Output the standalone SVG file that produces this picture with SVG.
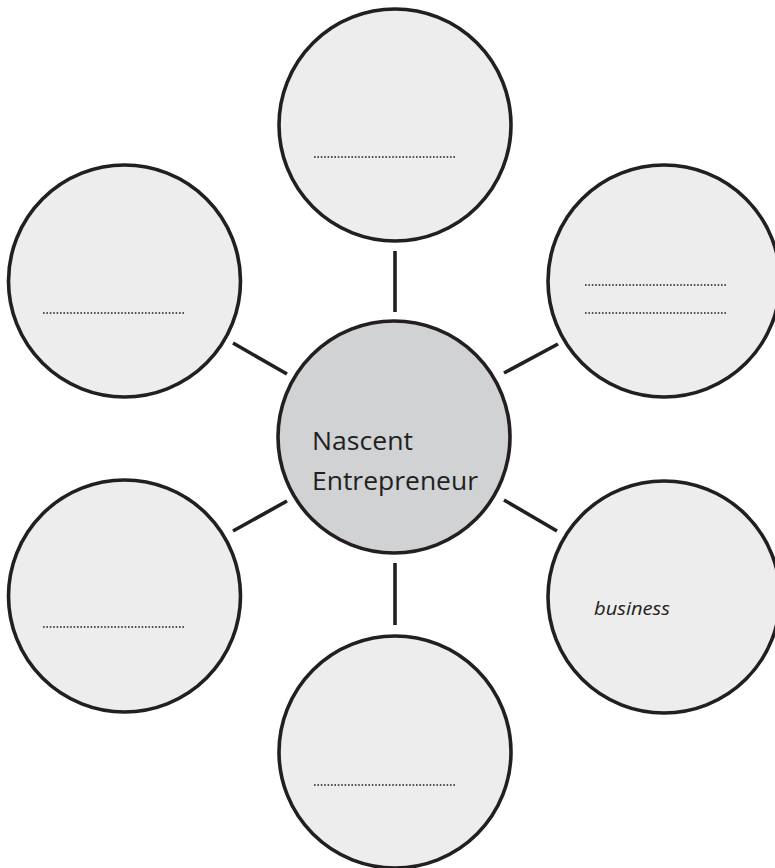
<svg xmlns="http://www.w3.org/2000/svg" width="775" height="868" viewBox="0 0 775 868">
<style>
.node{fill:#ededed;stroke:#231f20;stroke-width:3.6}
.center{fill:#d1d2d4;stroke:#231f20;stroke-width:3.6}
.dots{stroke:#231f20;stroke-width:1.7;stroke-dasharray:1.6 1.8;fill:none}
.conn{stroke:#231f20;stroke-width:3.6;fill:none}
.lbl{font-family:"Open Sans","Noto Sans",sans-serif;fill:#231f20}
</style>
<rect width="775" height="868" fill="#fff"/>
<g id="connectors">
<line class="conn" x1="395" y1="251" x2="395" y2="312"/>
<line class="conn" x1="395" y1="563" x2="395" y2="625"/>
<line class="conn" x1="504" y1="373" x2="558" y2="344"/>
<line class="conn" x1="504" y1="500" x2="557" y2="531"/>
<line class="conn" x1="233" y1="343" x2="287" y2="374"/>
<line class="conn" x1="233" y1="531" x2="287" y2="501"/>
</g>
<g id="center">
<circle class="center" cx="394" cy="437" r="116"/>
<text class="lbl" x="312" y="450" font-size="25.5" textLength="101" lengthAdjust="spacingAndGlyphs">Nascent</text>
<text class="lbl" x="312" y="490" font-size="25.5" textLength="166" lengthAdjust="spacingAndGlyphs">Entrepreneur</text>
</g>
<g id="top">
<circle class="node" cx="395" cy="125" r="116"/>
<line class="dots" x1="314" y1="157" x2="455" y2="157"/>
</g>
<g id="top-right">
<circle class="node" cx="664" cy="281" r="116"/>
<line class="dots" x1="585" y1="285" x2="726" y2="285"/>
<line class="dots" x1="585" y1="313" x2="726" y2="313"/>
</g>
<g id="bottom-right">
<circle class="node" cx="664" cy="597" r="116"/>
<text class="lbl" x="594" y="615" font-size="19" font-style="italic" textLength="76" lengthAdjust="spacingAndGlyphs">business</text>
</g>
<g id="bottom">
<circle class="node" cx="395" cy="752" r="116"/>
<line class="dots" x1="314" y1="785" x2="455" y2="785"/>
</g>
<g id="bottom-left">
<circle class="node" cx="124.5" cy="596" r="116"/>
<line class="dots" x1="43" y1="627" x2="184" y2="627"/>
</g>
<g id="top-left">
<circle class="node" cx="124.5" cy="281" r="116"/>
<line class="dots" x1="43" y1="313" x2="184" y2="313"/>
</g>
</svg>
